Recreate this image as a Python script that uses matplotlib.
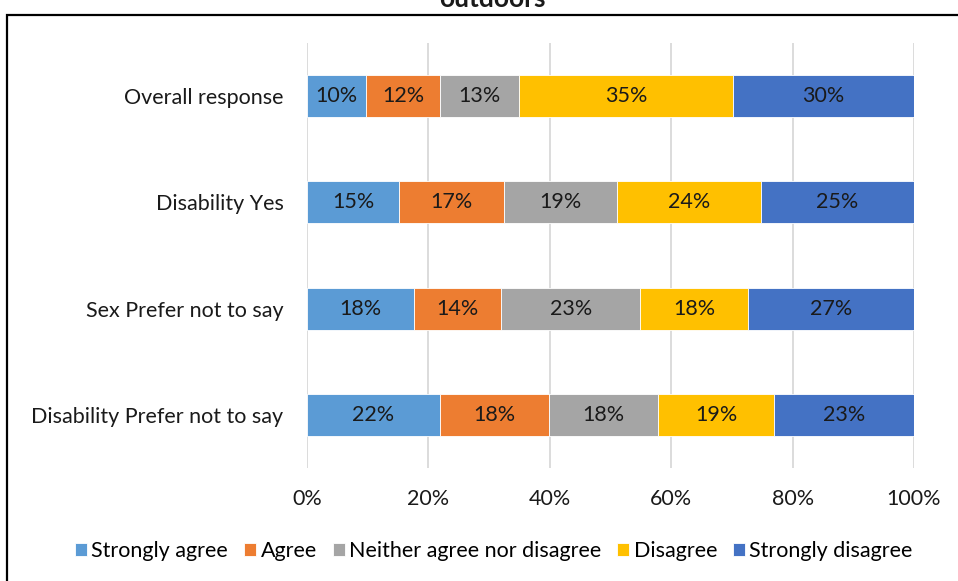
import numpy as np
import matplotlib.pyplot as plt
from matplotlib.patches import Rectangle

plt.rcParams['font.family'] = ['Lato', 'DejaVu Sans']

# Data (percent of respondents)
groups = ['Overall response', 'Disability Yes', 'Sex Prefer not to say', 'Disability Prefer not to say']
responses = ['Strongly agree', 'Agree', 'Neither agree nor disagree', 'Disagree', 'Strongly disagree']
strongly_agree = [9.7, 15.2, 17.6, 21.9]
agree = [12.2, 17.3, 14.4, 18.0]
neither = [13.0, 18.6, 22.9, 18.0]
disagree = [35.3, 23.7, 17.8, 19.1]
strongly_disagree = [29.8, 25.2, 27.3, 23.0]
colors = ['#5B9BD5', '#ED7D31', '#A5A5A5', '#FFC000', '#4472C4']
xticks = [0, 20, 40, 60, 80, 100]

series = [strongly_agree, agree, neither, disagree, strongly_disagree]
FS = 15.5

fig = plt.figure(figsize=(9.58, 5.81), dpi=100)
ax = fig.add_axes([307/958, 1 - 468/581, 607/958, 425/581])

y = np.arange(len(groups))[::-1]
left = np.zeros(len(groups))
for name, vals, c in zip(responses, series, colors):
    vals = np.array(vals)
    ax.barh(y, vals, left=left, height=0.395, color=c, label=name,
            edgecolor='white', linewidth=0.6, zorder=3)
    for yi, l, v in zip(y, left, vals):
        ax.text(l + v / 2, yi, f"{round(v):.0f}%", ha='center', va='center',
                fontsize=FS, color='#1a1a1a', zorder=4)
    left += vals

ax.set_xlim(0, 100)
ax.set_ylim(-0.5, 3.5)
ax.set_yticks(y)
ax.set_yticklabels(groups, fontsize=FS, color='#1a1a1a')
ax.set_xticks(xticks)
ax.set_xticklabels([f"{t}%" for t in xticks], fontsize=FS, color='#1a1a1a')
ax.tick_params(length=0)
ax.tick_params(axis='y', pad=17)
ax.tick_params(axis='x', pad=15)
ax.grid(axis='x', color='#d9d9d9', linewidth=1.3, zorder=0)
for s in ax.spines.values():
    s.set_visible(False)

fig.legend(loc='center', bbox_to_anchor=(494/958, 1 - 551/581), ncol=5,
           frameon=False, fontsize=FS, handlelength=0.55, handleheight=0.55,
           handletextpad=0.2, columnspacing=0.75)

# chart border, cut by the image edges
fig.patches.append(Rectangle((7/958, -0.1), 1.2, 1 - 15/581 + 0.1,
                             transform=fig.transFigure, fill=False,
                             edgecolor='black', linewidth=1.6))
# title, only its last line is inside the picture
fig.text(492/958, 1 + 1/581, 'outdoors', ha='center', va='center',
         fontsize=19, fontweight='bold', color='#1a1a1a')

fig.savefig('out.png', dpi=100)
